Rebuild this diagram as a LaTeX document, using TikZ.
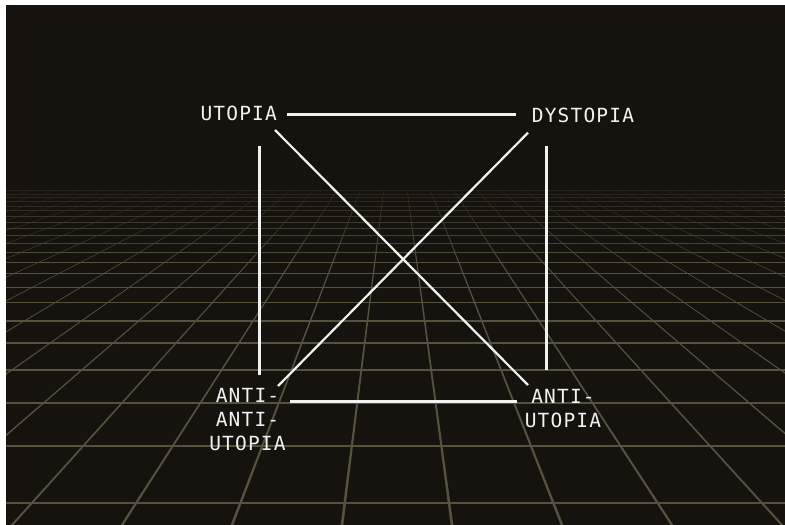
\documentclass[tikz,border=0pt]{standalone}
\usepackage{fontspec}
\usetikzlibrary{fadings}
\newfontfamily\labfont{DejaVu Sans Mono}[LetterSpace=6]
\definecolor{bgc}{HTML}{16130F}
\definecolor{gridc}{HTML}{57523F}
\definecolor{inkc}{HTML}{F2F2F0}
\begin{document}
\begin{tikzpicture}[x=1pt,y=-1pt,
  lab/.style={text=inkc, font=\labfont\fontsize{19.5}{24}\selectfont, align=center, inner sep=0pt},
  edge/.style={draw=inkc, line width=3pt},
  diag/.style={draw=inkc, line width=2.2pt}]
\useasboundingbox (0,0) rectangle (785,525);
\fill[white] (0,0) rectangle (785,525);
\fill[bgc] (6,5) rectangle (785,525);
\begin{scope}
\clip (6,5) rectangle (785,525);
\foreach \k in {-20,...,20}{
  \pgfmathsetmacro\xb{342+110*\k}
  \pgfmathsetmacro\xt{395+(\xb-395)/425*90}
  \fill[gridc] (\xt-0.35,190) -- (\xt+0.35,190) -- (\xb+1.35,525) -- (\xb-1.35,525) -- cycle;
}
\foreach \n in {0,...,21}{
  \pgfmathsetmacro\yy{100+2446/(\n+6.07)}
  \pgfmathsetmacro\ww{2.6*(\yy-100)/425}
  \draw[gridc, line width=\ww pt] (6,\yy) -- (785,\yy);
}
\fill[bgc, fill opacity=0.75, path fading=south] (6,188) rectangle (785,265);
\end{scope}
\node[lab] (u) at (238.7,113.5) {UTOPIA};
\node[lab] (d) at (583,115.3) {DYSTOPIA};
\node[lab] (aau) at (247.5,419.5) {ANTI-\\ANTI-\\UTOPIA};
\node[lab] (au) at (563,408.5) {ANTI-\\UTOPIA};
\coordinate (u-e) at (287,114.5); \coordinate (d-w) at (516,114.5);
\coordinate (u-s) at (259.5,146); \coordinate (aau-n) at (259.5,375);
\coordinate (d-s) at (546.5,146); \coordinate (au-n) at (546.5,370);
\coordinate (aau-e) at (290,401.5); \coordinate (au-w) at (517,401.5);
\coordinate (u-se) at (275,130); \coordinate (au-nw) at (528,385);
\coordinate (d-sw) at (528,132.7); \coordinate (aau-ne) at (278,386);
\draw[edge] (u-e) -- (d-w);
\draw[edge] (u-s) -- (aau-n);
\draw[edge] (d-s) -- (au-n);
\draw[edge] (aau-e) -- (au-w);
\draw[diag] (u-se) -- (au-nw);
\draw[diag] (d-sw) -- (aau-ne);
\end{tikzpicture}
\end{document}
